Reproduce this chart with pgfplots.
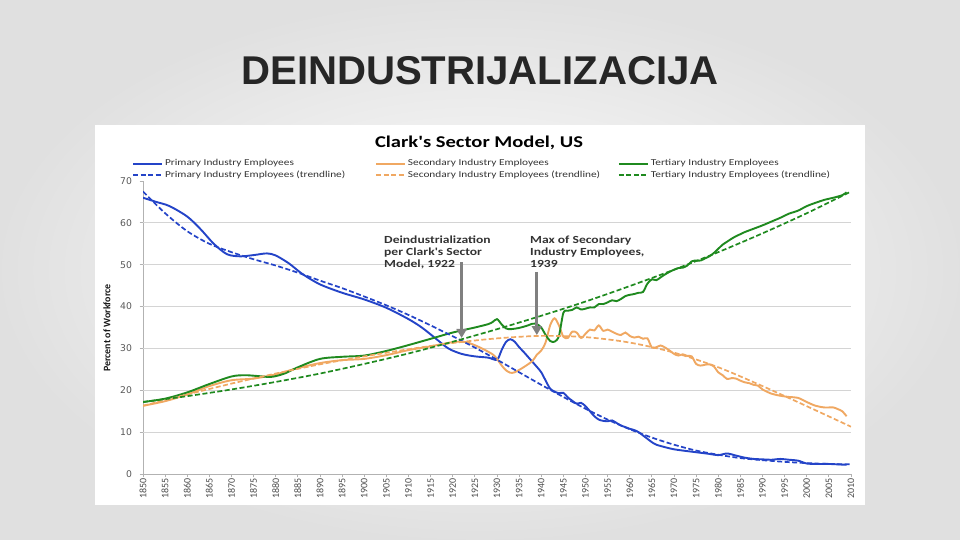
\documentclass[border=0pt]{standalone}
\usepackage{fontspec}
\setmainfont{Carlito}
\newfontfamily\slidefont{Liberation Sans}
\newfontfamily\wide[FakeStretch=1.25]{Carlito}
\newfontfamily\verd{DejaVu Sans}
\usepackage{pgfplots}
\pgfplotsset{compat=1.18}
\usetikzlibrary{arrows.meta}
\definecolor{pblue}{HTML}{2444C8}
\definecolor{sorange}{HTML}{F0A862}
\definecolor{tgreen}{HTML}{1F8A1F}
\begin{document}
\begin{tikzpicture}
% slide background and chart area
\shade[inner color=white, outer color=black!12] (0bp,0bp) rectangle (960bp,540bp);
\fill[white] (95bp,35bp) rectangle (865bp,415bp);
\node[font=\slidefont\bfseries\fontsize{40.3}{40.3}\selectfont, text=black!85, anchor=base] at (480bp,455bp) {DEINDUSTRIJALIZACIJA};
\node[font=\wide\bfseries\fontsize{16.5}{16.5}\selectfont, anchor=base] at (479bp,392bp) {Clark's Sector Model, US};
\node[rotate=90, font=\bfseries\fontsize{10}{10}\selectfont, text=black!90] at (107bp,212bp) {Percent of Workforce};

\begin{axis}[
  scale only axis, width=708bp, height=293bp,
  at={(143bp,66bp)}, anchor=south west,
  xmin=1850, xmax=2010, ymin=0, ymax=70,
  axis lines*=left, axis line style={draw=black!30, line width=0.8bp, -},
  xtick={1850,1855,...,2010}, ytick={0,10,...,70},
  tick align=outside, major tick length=3.5bp,
  tick style={draw=black!30, line width=0.8bp},
  /pgf/number format/1000 sep={},
  /pgf/number format/assume math mode=true,
  x tick label style={rotate=90, anchor=east, font=\fontsize{10}{10}\selectfont, text=black!70, inner sep=1bp},
  y tick label style={font=\verd\fontsize{9.3}{9.3}\selectfont, text=black!65, xshift=-4bp},
  extra y ticks={10,20,...,60}, extra y tick labels={},
  extra y tick style={grid=major, major tick length=0pt},
  grid style={draw=black!17, line width=0.8bp},
  legend columns=3,
  legend style={draw=none, fill=none, at={(axis description cs:-0.0198,1.082)}, anchor=north west,
    column sep=0bp, row sep=2.5bp, font=\wide\fontsize{9.1}{9.1}\selectfont, text=black!80,
    nodes={inner xsep=2bp, inner ysep=0.5bp}},
  legend cell align=left,
  legend image code/.code={\draw[#1] (0bp,0bp) -- (29bp,0bp);},
  no markers,
  every axis plot/.append style={line width=1.9bp},
  trend/.style={line width=1.7bp, dash pattern=on 5bp off 2.5bp},
]
% Primary industry employees
\addplot[pblue, smooth] coordinates {
(1850,66)(1853,65)(1856,64)(1860,61.5)(1863,58.5)(1866,55)(1869,52.5)(1872,52)
(1875,52.3)(1878,52.7)(1880,52.2)(1883,50.3)(1886,47.8)(1890,45.3)(1895,43.3)
(1900,41.7)(1905,39.7)(1910,37)(1913,35)(1916,32.5)(1919,30)(1922,28.7)(1925,28.1)
(1928,27.8)(1930,27.3)(1931,29.5)(1932,31.5)(1933,32.2)(1934,31.6)(1935,30.3)
(1936,29.2)(1937,28)(1938,26.8)(1939,25.6)(1940,24.3)(1941,22.3)(1942,20.4)
(1943,19.7)(1944,19.3)(1945,19.4)(1946,18.3)(1947,17.5)(1948,16.8)(1949,17)
(1950,16.2)(1951,15)(1952,13.8)(1953,13)(1954,12.7)(1955,12.6)(1956,12.8)(1957,12.2)
(1958,11.6)(1959,11.2)(1960,10.8)(1961,10.5)(1962,10)(1963,9.2)(1964,8.4)(1965,7.6)
(1966,7)(1968,6.4)(1970,5.9)(1972,5.6)(1975,5.2)(1978,4.8)(1980,4.5)(1982,4.9)
(1984,4.4)(1986,3.9)(1988,3.6)(1990,3.5)(1992,3.4)(1994,3.6)(1996,3.4)(1998,3.2)
(2000,2.5)(2002,2.4)(2005,2.4)(2007,2.3)(2009,2.2)};
\addlegendentry{\makebox[208bp][l]{Primary Industry Employees}}
% Secondary industry employees
\addplot[sorange, smooth] coordinates {
(1850,16.3)(1855,17.4)(1860,19)(1865,21)(1870,22.4)(1875,22.8)(1880,23.8)(1885,25.3)
(1890,26.5)(1895,27.2)(1900,27.5)(1905,28.4)(1910,29.6)(1915,30.5)(1920,31.5)
(1923,31.5)(1926,30.3)(1929,28.6)(1930,27.5)(1931,26)(1932,24.8)(1933,24.2)(1934,24.3)
(1936,25.5)(1938,27)(1939,28.5)(1940,29.5)(1941,31.5)(1942,35.5)(1943,37.2)(1944,35.5)
(1945,32.8)(1946,32.5)(1947,34)(1948,33.8)(1949,32.5)(1950,33.5)(1951,34.5)(1952,34.3)
(1953,35.5)(1954,34.2)(1955,34.5)(1956,34)(1957,33.5)(1958,33.2)(1959,33.8)(1960,33)
(1961,32.6)(1962,32.8)(1963,32.3)(1964,32.4)(1965,30.2)(1966,30.3)(1967,30.7)
(1968,30.2)(1969,29.5)(1970,28.7)(1971,28.3)(1972,28.6)(1973,28.2)(1974,28.1)
(1975,26.3)(1976,25.9)(1977,26.1)(1978,26.2)(1979,25.7)(1980,24.3)(1981,23.6)
(1982,22.7)(1983,22.9)(1984,22.8)(1985,22.3)(1986,21.9)(1987,21.7)(1988,21.3)
(1989,21.1)(1990,20.2)(1992,19.2)(1994,18.7)(1996,18.4)(1998,18.2)(2000,17.2)
(2002,16.3)(2004,15.9)(2006,15.9)(2007,15.5)(2008,15)(2009,13.8)};
\addlegendentry{\makebox[208bp][l]{Secondary Industry Employees}}
% Tertiary industry employees
\addplot[tgreen, smooth] coordinates {
(1850,17.2)(1855,18)(1860,19.5)(1865,21.5)(1870,23.3)(1873,23.6)(1876,23.4)(1879,23.2)
(1882,24)(1885,25.5)(1890,27.5)(1895,28)(1900,28.3)(1905,29.4)(1910,30.8)(1915,32.3)
(1920,33.8)(1925,35)(1928,35.8)(1929,36.3)(1930,37)(1931,35.8)(1932,34.8)(1933,34.6)
(1935,34.9)(1937,35.5)(1938,35.9)(1939,35.8)(1940,35)(1941,33.2)(1942,31.8)(1943,31.6)
(1944,33)(1945,38.5)(1946,39)(1947,39.2)(1948,39.8)(1949,39.3)(1950,39.5)(1951,39.8)
(1952,39.8)(1953,40.6)(1954,40.6)(1955,41)(1956,41.5)(1957,41.3)(1958,41.8)(1959,42.5)
(1960,42.8)(1961,43)(1962,43.3)(1963,43.5)(1964,45.5)(1965,46.5)(1966,46.3)(1967,47)
(1968,47.7)(1969,48.3)(1970,48.8)(1971,49.2)(1972,49.3)(1973,49.8)(1974,50.8)(1975,51)
(1976,51)(1977,51.5)(1978,52)(1979,52.8)(1980,53.8)(1981,54.8)(1982,55.5)(1983,56.2)
(1984,56.8)(1985,57.3)(1986,57.8)(1988,58.6)(1990,59.4)(1992,60.3)(1994,61.2)
(1996,62.2)(1998,62.9)(2000,64)(2002,64.8)(2004,65.5)(2006,66)(2008,66.6)(2009,67.3)};
\addlegendentry{Tertiary Industry Employees}
% trendlines
\addplot[pblue, trend, smooth] coordinates {
(1850,67.5)(1855,62.3)(1860,58)(1865,55)(1870,53)(1875,51.3)(1880,49.8)(1885,48.1)
(1890,46.2)(1895,44.4)(1900,42.4)(1905,40.3)(1910,38)(1915,35.5)(1920,32.9)(1925,30.2)
(1930,27.3)(1935,24.3)(1940,21.3)(1945,18.4)(1950,15.6)(1955,13)(1960,10.7)(1965,8.7)
(1970,7)(1975,5.6)(1980,4.6)(1985,3.8)(1990,3.3)(1995,2.9)(2000,2.6)(2005,2.4)(2010,2.3)};
\addlegendentry{\makebox[208bp][l]{Primary Industry Employees (trendline)}}
\addplot[sorange, trend, smooth] coordinates {
(1850,16.3)(1860,19)(1870,21.6)(1880,24)(1890,26.2)(1900,28.1)(1910,29.8)(1920,31.3)
(1930,32.4)(1940,33)(1950,32.7)(1960,31.4)(1970,29)(1980,25.5)(1990,21)(2000,16.2)(2010,11.3)};
\addlegendentry{\makebox[208bp][l]{Secondary Industry Employees (trendline)}}
\addplot[tgreen, trend, smooth] coordinates {
(1850,17.2)(1860,18.6)(1870,20.2)(1880,22)(1890,24)(1900,26.3)(1910,28.8)(1920,31.6)
(1930,34.6)(1940,37.8)(1950,41.2)(1960,44.9)(1970,48.8)(1980,53)(1990,57.5)(2000,62.3)(2010,67.5)};
\addlegendentry{Tertiary Industry Employees (trendline)}
% annotation arrows
\draw[line width=3bp, black!50, -{Triangle[width=10bp,length=9bp]}] (axis cs:1922,50.6) -- (axis cs:1922,32.5);
\draw[line width=3bp, black!50, -{Triangle[width=10bp,length=9bp]}] (axis cs:1939,48.3) -- (axis cs:1939,33.2);
\end{axis}
\node[anchor=north west, align=left, inner sep=0pt, font=\wide\bfseries\fontsize{10.9}{12}\selectfont, text=black!80] at (384bp,304bp) {Deindustrialization\\per Clark's Sector\\Model, 1922};
\node[anchor=north west, align=left, inner sep=0pt, font=\wide\bfseries\fontsize{10.9}{12}\selectfont, text=black!80] at (530bp,304bp) {Max of Secondary\\Industry Employees,\\1939};
\end{tikzpicture}
\end{document}
